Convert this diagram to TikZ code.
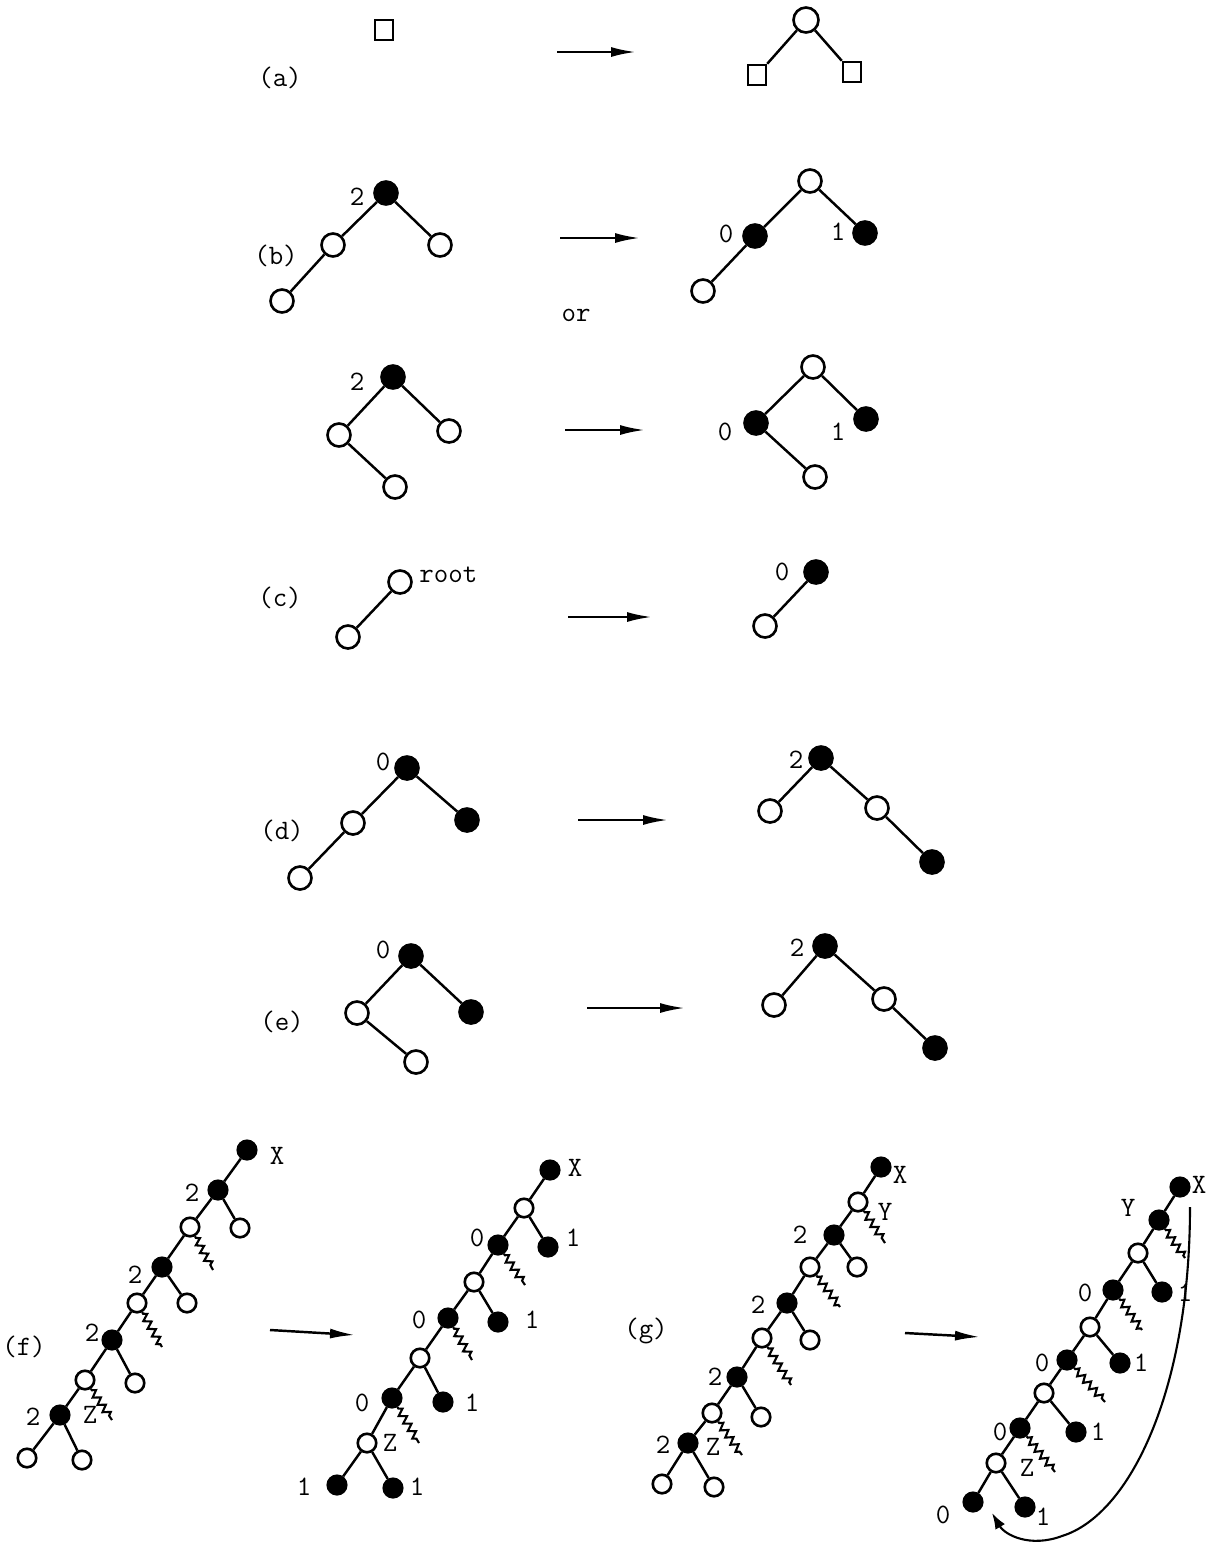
\documentclass[tikz,border=0pt]{standalone}
\usepackage{fontspec}
\usetikzlibrary{decorations.pathmorphing,arrows.meta}
\begin{document}
\begin{tikzpicture}[x=0.02cm,y=-0.02cm,
  wn/.style={circle,draw,fill=white,line width=1.5pt,minimum size=0.46cm,inner sep=0pt},
  bn/.style={circle,draw,fill=black,line width=1.5pt,minimum size=0.46cm,inner sep=0pt},
  swn/.style={wn,minimum size=0.37cm},
  sbn/.style={bn,minimum size=0.37cm},
  sq/.style={rectangle,draw,line width=1.4pt,minimum width=0.36cm,minimum height=0.40cm,inner sep=0pt},
  lbl/.style={font=\ttfamily\fontsize{16}{18}\selectfont,inner sep=0pt},
  edge/.style={line width=1.4pt},
  arr/.style={line width=1.4pt,-{Latex[length=0.5cm,width=0.2cm]}},
  curvearr/.style={line width=1.2pt,-{Latex[length=0.32cm,width=0.22cm]}},
  wavy/.style={line width=1.2pt,decorate,decoration={zigzag,amplitude=2pt,segment length=5pt,pre length=1pt,post length=1pt}}]
\useasboundingbox (0,0) rectangle (1212,1549);

% ---------- (a)
\node[lbl] (la) at (280,78) {(a)};
\node[sq] (a0) at (384,30) {};
\coordinate (aA1) at (557,52); \coordinate (aA2) at (636,52);
\draw[arr] (aA1) -- (aA2);
\node[wn,minimum size=0.5cm] (a1) at (806,20) {};
\node[sq] (a2) at (757,75) {};
\node[sq] (a3) at (852,72) {};
\draw[edge] (a1) -- (a2.north east);
\draw[edge] (a1) -- (a3.north west);

% ---------- (b) first
\node[lbl] (lb) at (276,256) {(b)};
\node[bn] (b1r) at (386,193) {};
\node[lbl] (b1t) at (357,197) {2};
\node[wn] (b1l) at (333,245) {};
\node[wn] (b1ll) at (282,301) {};
\node[wn] (b1rr) at (440,245) {};
\draw[edge] (b1r) -- (b1l); \draw[edge] (b1l) -- (b1ll); \draw[edge] (b1r) -- (b1rr);
\coordinate (bA1) at (560,238); \coordinate (bA2) at (640,238);
\draw[arr] (bA1) -- (bA2);
\node[wn] (b2r) at (810,181) {};
\node[bn] (b2l) at (755,236) {};
\node[lbl] (b2t0) at (726,234) {0};
\node[bn] (b2rr) at (865,233) {};
\node[lbl] (b2t1) at (838,232) {1};
\node[wn] (b2ll) at (703,291) {};
\draw[edge] (b2r) -- (b2l); \draw[edge] (b2l) -- (b2ll); \draw[edge] (b2r) -- (b2rr);
\node[lbl] (lor) at (576,315) {or};

% ---------- (b) second
\node[bn] (b3r) at (393,377) {};
\node[lbl] (b3t) at (357,382) {2};
\node[wn] (b3l) at (339,435) {};
\node[wn] (b3rr) at (449,431) {};
\node[wn] (b3lr) at (395,487) {};
\draw[edge] (b3r) -- (b3l); \draw[edge] (b3l) -- (b3lr); \draw[edge] (b3r) -- (b3rr);
\coordinate (bB1) at (565,430); \coordinate (bB2) at (645,430);
\draw[arr] (bB1) -- (bB2);
\node[wn] (b4r) at (813,367) {};
\node[bn] (b4l) at (756,423) {};
\node[lbl] (b4t0) at (725,432) {0};
\node[bn] (b4rr) at (866,419) {};
\node[lbl] (b4t1) at (838,432) {1};
\node[wn] (b4lr) at (815,477) {};
\draw[edge] (b4r) -- (b4l); \draw[edge] (b4l) -- (b4lr); \draw[edge] (b4r) -- (b4rr);

% ---------- (c)
\node[lbl] (lc) at (280,598) {(c)};
\node[wn] (c1) at (400,582) {};
\node[lbl,anchor=west] (croot) at (419,575) {root};
\node[wn] (c2) at (348,637) {};
\draw[edge] (c1) -- (c2);
\coordinate (cA1) at (568,617); \coordinate (cA2) at (652,617);
\draw[arr] (cA1) -- (cA2);
\node[bn] (c3) at (816,572) {};
\node[lbl] (c3t) at (782,572) {0};
\node[wn] (c4) at (765,626) {};
\draw[edge] (c3) -- (c4);

% ---------- (d)
\node[lbl] (ld) at (282,831) {(d)};
\node[bn] (d1) at (407,768) {};
\node[lbl] (d1t) at (383,762) {0};
\node[wn] (d2) at (353,823) {};
\node[wn] (d3) at (300,878) {};
\node[bn] (d4) at (467,820) {};
\draw[edge] (d1) -- (d2); \draw[edge] (d2) -- (d3); \draw[edge] (d1) -- (d4);
\coordinate (dA1) at (578,820); \coordinate (dA2) at (668,820);
\draw[arr] (dA1) -- (dA2);
\node[bn] (d5) at (821,758) {};
\node[lbl] (d5t) at (796,760) {2};
\node[wn] (d6) at (770,811) {};
\node[wn] (d7) at (877,808) {};
\node[bn] (d8) at (932,862) {};
\draw[edge] (d5) -- (d6); \draw[edge] (d5) -- (d7); \draw[edge] (d7) -- (d8);

% ---------- (e)
\node[lbl] (le) at (282,1022) {(e)};
\node[bn] (e1) at (411,956) {};
\node[lbl] (e1t) at (383,950) {0};
\node[wn] (e2) at (357,1013) {};
\node[wn] (e3) at (416,1062) {};
\node[bn] (e4) at (471,1012) {};
\draw[edge] (e1) -- (e2); \draw[edge] (e2) -- (e3); \draw[edge] (e1) -- (e4);
\coordinate (eA1) at (587,1008); \coordinate (eA2) at (685,1008);
\draw[arr] (eA1) -- (eA2);
\node[bn] (e5) at (825,946) {};
\node[lbl] (e5t) at (797,948) {2};
\node[wn] (e6) at (774,1005) {};
\node[wn] (e7) at (884,999) {};
\node[bn] (e8) at (935,1048) {};
\draw[edge] (e5) -- (e6); \draw[edge] (e5) -- (e7); \draw[edge] (e7) -- (e8);

% ---------- (f) left
\node[lbl] (lf) at (24,1347) {(f)};
\node[sbn] (f1) at (247,1150) {};
\node[lbl] (f1t) at (277,1156) {X};
\node[sbn] (f2) at (218,1190) {};
\node[lbl] (f2t) at (192,1193) {2};
\node[swn] (f3) at (190,1227) {};
\node[swn] (f3r) at (240,1228) {};
\coordinate (f3w) at (213,1270);
\node[sbn] (f4) at (162,1267) {};
\node[lbl] (f4t) at (135,1275) {2};
\node[swn] (f4r) at (187,1303) {};
\node[swn] (f5) at (137,1303) {};
\coordinate (f5w) at (162,1347);
\node[sbn] (f6) at (112,1340) {};
\node[lbl] (f6t) at (92,1333) {2};
\node[swn] (f6r) at (135,1383) {};
\node[swn] (f7) at (85,1380) {};
\coordinate (f7w) at (112,1420);
\node[sbn] (f8) at (60,1415) {};
\node[lbl] (f8t) at (33,1417) {2};
\node[lbl] (fZ) at (90,1415) {Z};
\node[swn] (f9) at (27,1458) {};
\node[swn] (f10) at (82,1460) {};
\draw[edge] (f1) -- (f2); \draw[edge] (f2) -- (f3); \draw[edge] (f2) -- (f3r);
\draw[edge] (f3) -- (f4); \draw[edge] (f4) -- (f4r); \draw[edge] (f4) -- (f5);
\draw[edge] (f5) -- (f6); \draw[edge] (f6) -- (f6r); \draw[edge] (f6) -- (f7);
\draw[edge] (f7) -- (f8); \draw[edge] (f8) -- (f9); \draw[edge] (f8) -- (f10);
\draw[wavy] (f3) -- (f3w); \draw[wavy] (f5) -- (f5w); \draw[wavy] (f7) -- (f7w);
\coordinate (fA1) at (270,1330); \coordinate (fA2) at (355,1335);
\draw[arr] (fA1) -- (fA2);

% ---------- (f) right
\node[sbn] (F1) at (550,1170) {};
\node[lbl] (F1t) at (575,1168) {X};
\node[swn] (F2) at (524,1208) {};
\node[sbn] (F2r) at (548,1247) {};
\node[lbl] (F2rt) at (573,1238) {1};
\node[sbn] (F3) at (498,1245) {};
\node[lbl] (F3t) at (477,1238) {0};
\coordinate (F3w) at (525,1285);
\node[swn] (F4) at (474,1282) {};
\node[sbn] (F4r) at (498,1322) {};
\node[lbl] (F4rt) at (532,1320) {1};
\node[sbn] (F5) at (448,1318) {};
\node[lbl] (F5t) at (419,1320) {0};
\coordinate (F5w) at (472,1360);
\node[swn] (F6) at (420,1358) {};
\node[sbn] (F6r) at (443,1402) {};
\node[lbl] (F6rt) at (472,1403) {1};
\node[sbn] (F7) at (392,1398) {};
\node[lbl] (F7t) at (362,1403) {0};
\coordinate (F7w) at (419,1443);
\node[swn] (F8) at (367,1443) {};
\node[lbl] (FZ) at (390,1443) {Z};
\node[sbn] (F9) at (337,1485) {};
\node[lbl] (F9t) at (304,1487) {1};
\node[sbn] (F10) at (393,1488) {};
\node[lbl] (F10t) at (417,1487) {1};
\draw[edge] (F1) -- (F2); \draw[edge] (F2) -- (F2r); \draw[edge] (F2) -- (F3);
\draw[edge] (F3) -- (F4); \draw[edge] (F4) -- (F4r); \draw[edge] (F4) -- (F5);
\draw[edge] (F5) -- (F6); \draw[edge] (F6) -- (F6r); \draw[edge] (F6) -- (F7);
\draw[edge] (F7) -- (F8); \draw[edge] (F8) -- (F9); \draw[edge] (F8) -- (F10);
\draw[wavy] (F3) -- (F3w); \draw[wavy] (F5) -- (F5w); \draw[wavy] (F7) -- (F7w);

% ---------- (g) left
\node[lbl] (lg) at (646,1331) {(g)};
\node[sbn] (g1) at (881,1167) {};
\node[lbl] (g1t) at (900,1175) {X};
\node[swn] (g2) at (858,1202) {};
\node[lbl] (gY) at (885,1212) {Y};
\coordinate (g2w) at (885,1243);
\node[sbn] (g3) at (834,1235) {};
\node[lbl] (g3t) at (800,1235) {2};
\node[swn] (g3r) at (857,1267) {};
\node[swn] (g4) at (810,1267) {};
\coordinate (g4w) at (840,1307);
\node[sbn] (g5) at (787,1303) {};
\node[lbl] (g5t) at (758,1305) {2};
\node[swn] (g5r) at (810,1340) {};
\node[swn] (g6) at (762,1338) {};
\coordinate (g6w) at (791,1385);
\node[sbn] (g7) at (737,1377) {};
\node[lbl] (g7t) at (715,1377) {2};
\node[swn] (g7r) at (761,1417) {};
\node[swn] (g8) at (712,1413) {};
\coordinate (g8w) at (742,1455);
\node[sbn] (g9) at (688,1443) {};
\node[lbl] (g9t) at (663,1445) {2};
\node[lbl] (gZ) at (713,1447) {Z};
\node[swn] (g10) at (662,1484) {};
\node[swn] (g11) at (714,1487) {};
\draw[edge] (g1) -- (g2); \draw[edge] (g2) -- (g3);
\draw[edge] (g3) -- (g3r); \draw[edge] (g3) -- (g4);
\draw[edge] (g4) -- (g5); \draw[edge] (g5) -- (g5r); \draw[edge] (g5) -- (g6);
\draw[edge] (g6) -- (g7); \draw[edge] (g7) -- (g7r); \draw[edge] (g7) -- (g8);
\draw[edge] (g8) -- (g9); \draw[edge] (g9) -- (g10); \draw[edge] (g9) -- (g11);
\draw[wavy] (g2) -- (g2w); \draw[wavy] (g4) -- (g4w); \draw[wavy] (g6) -- (g6w); \draw[wavy] (g8) -- (g8w);
\coordinate (gA1) at (905,1333); \coordinate (gA2) at (980,1337);
\draw[arr] (gA1) -- (gA2);

% ---------- (g) right
\node[sbn] (G1) at (1180,1187) {};
\node[lbl] (G1t) at (1199,1185) {X};
\node[lbl] (GY) at (1128,1208) {Y};
\node[sbn] (G2) at (1159,1220) {};
\coordinate (G2w) at (1185,1258);
\node[swn] (G3) at (1138,1253) {};
\node[sbn] (G3r) at (1162,1292) {};
\node[lbl] (G3rt) at (1185,1293) {1};
\node[sbn] (G4) at (1113,1290) {};
\node[lbl] (G4t) at (1085,1293) {0};
\coordinate (G4w) at (1142,1330);
\node[swn] (G5) at (1090,1327) {};
\node[sbn] (G5r) at (1120,1363) {};
\node[lbl] (G5rt) at (1141,1363) {1};
\node[sbn] (G6) at (1067,1360) {};
\node[lbl] (G6t) at (1042,1363) {0};
\coordinate (G6w) at (1105,1402);
\node[swn] (G7) at (1044,1393) {};
\node[sbn] (G7r) at (1076,1432) {};
\node[lbl] (G7rt) at (1098,1432) {1};
\node[sbn] (G8) at (1020,1428) {};
\node[lbl] (G8t) at (1000,1432) {0};
\coordinate (G8w) at (1055,1472);
\node[swn] (G9) at (996,1463) {};
\node[lbl] (GZ) at (1027,1468) {Z};
\node[sbn] (G10) at (973,1502) {};
\node[lbl] (G10t) at (943,1515) {0};
\node[sbn] (G11) at (1025,1507) {};
\node[lbl] (G11t) at (1043,1517) {1};
\draw[edge] (G1) -- (G2); \draw[edge] (G2) -- (G3);
\draw[edge] (G3) -- (G3r); \draw[edge] (G3) -- (G4);
\draw[edge] (G4) -- (G5); \draw[edge] (G5) -- (G5r); \draw[edge] (G5) -- (G6);
\draw[edge] (G6) -- (G7); \draw[edge] (G7) -- (G7r); \draw[edge] (G7) -- (G8);
\draw[edge] (G8) -- (G9); \draw[edge] (G9) -- (G10); \draw[edge] (G9) -- (G11);
\draw[wavy] (G2) -- (G2w); \draw[wavy] (G4) -- (G4w); \draw[wavy] (G6) -- (G6w); \draw[wavy] (G8) -- (G8w);
\coordinate (Gc1) at (1190,1207);
\coordinate (Gcm) at (1062,1536);
\coordinate (Gc2) at (992,1513);
\draw[curvearr] (Gc1) .. controls (1190,1390) and (1130,1515) .. (Gcm) .. controls (1030,1548) and (1005,1535) .. (Gc2);
\end{tikzpicture}
\end{document}
